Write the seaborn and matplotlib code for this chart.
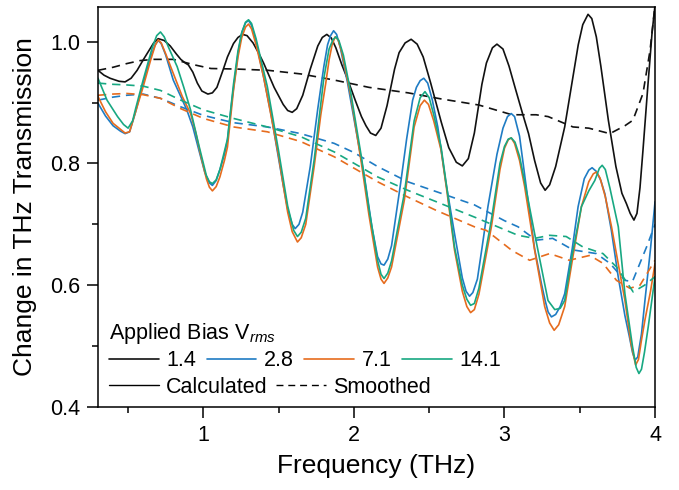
import matplotlib
matplotlib.use("Agg")
import pandas as pd
import seaborn as sns
import matplotlib.pyplot as plt
from matplotlib.lines import Line2D
from matplotlib.ticker import MultipleLocator

# ---- data ----
bias_levels = ["1.4", "2.8", "7.1", "14.1"]
bias_colors = ["#111111", "#1f7cc4", "#e66c1e", "#18a882"]

# calculated (solid)
f_calc_14 = [0.30, 0.34, 0.38, 0.44, 0.48, 0.52, 0.56, 0.60, 0.64, 0.67, 0.70, 0.74, 0.78, 0.82, 0.85,
             0.88, 0.90, 0.93, 0.96, 0.99, 1.03, 1.06, 1.09, 1.13, 1.16, 1.20, 1.23, 1.26, 1.29, 1.33,
             1.37, 1.40, 1.47, 1.53, 1.56, 1.59, 1.62, 1.66, 1.71, 1.76, 1.79, 1.82, 1.85, 1.88, 1.92,
             1.96, 2.01, 2.05, 2.08, 2.11, 2.145, 2.18, 2.22, 2.27, 2.30, 2.34, 2.38, 2.42, 2.46, 2.51,
             2.58, 2.63, 2.68, 2.72, 2.76, 2.80, 2.85, 2.88, 2.92, 2.95, 2.99, 3.03, 3.07, 3.12, 3.16,
             3.20, 3.24, 3.27, 3.30, 3.34, 3.40, 3.45, 3.49, 3.52, 3.555, 3.58, 3.61, 3.64, 3.69, 3.74,
             3.78, 3.81, 3.835, 3.86, 3.88, 3.90, 3.92, 3.95, 3.98, 4.00]
t_calc_14 = [0.953, 0.945, 0.940, 0.935, 0.934, 0.940, 0.953, 0.970, 0.986, 0.998, 1.005, 1.002, 0.993, 0.980, 0.971,
             0.965, 0.962, 0.950, 0.932, 0.919, 0.914, 0.916, 0.925, 0.953, 0.975, 0.997, 1.007, 1.012, 1.010, 0.998,
             0.980, 0.965, 0.925, 0.897, 0.887, 0.884, 0.890, 0.912, 0.955, 0.993, 1.007, 1.012, 1.006, 0.990, 0.962,
             0.937, 0.903, 0.877, 0.862, 0.850, 0.846, 0.858, 0.895, 0.955, 0.982, 0.998, 1.004, 0.996, 0.975, 0.932,
             0.868, 0.826, 0.802, 0.796, 0.808, 0.850, 0.930, 0.965, 0.990, 0.996, 0.988, 0.960, 0.925, 0.882, 0.849,
             0.805, 0.768, 0.756, 0.765, 0.795, 0.860, 0.935, 0.995, 1.028, 1.045, 1.038, 1.008, 0.960, 0.871, 0.795,
             0.751, 0.734, 0.718, 0.707, 0.718, 0.760, 0.822, 0.920, 1.014, 1.060]

f_calc_28 = [0.30, 0.35, 0.40, 0.45, 0.48, 0.51, 0.55, 0.60, 0.65, 0.68, 0.70, 0.72, 0.75, 0.80, 0.85,
             0.89, 0.93, 0.97, 1.01, 1.04, 1.06, 1.085, 1.11, 1.14, 1.16, 1.19, 1.23, 1.255, 1.28, 1.30,
             1.32, 1.35, 1.40, 1.45, 1.49, 1.53, 1.56, 1.59, 1.61, 1.635, 1.66, 1.71, 1.76, 1.80, 1.825,
             1.845, 1.865, 1.885, 1.91, 1.958, 2.01, 2.07, 2.12, 2.157, 2.18, 2.20, 2.225, 2.25, 2.31, 2.35,
             2.39, 2.415, 2.44, 2.464, 2.49, 2.52, 2.557, 2.61, 2.668, 2.72, 2.745, 2.768, 2.79, 2.82, 2.85,
             2.89, 2.95, 2.99, 3.02, 3.045, 3.067, 3.10, 3.156, 3.20, 3.245, 3.27, 3.29, 3.312, 3.34, 3.37,
             3.40, 3.45, 3.489, 3.53, 3.56, 3.582, 3.61, 3.64, 3.667, 3.71, 3.756, 3.80, 3.83, 3.85, 3.867,
             3.885, 3.91, 3.933, 3.97, 4.00]
t_calc_28 = [0.899, 0.878, 0.862, 0.853, 0.849, 0.852, 0.885, 0.932, 0.975, 0.995, 1.002, 0.997, 0.978, 0.937, 0.910,
             0.888, 0.860, 0.822, 0.785, 0.768, 0.764, 0.772, 0.790, 0.815, 0.838, 0.904, 0.980, 1.015, 1.031, 1.035,
             1.027, 1.000, 0.942, 0.880, 0.822, 0.765, 0.725, 0.700, 0.693, 0.700, 0.720, 0.795, 0.890, 0.959, 0.995,
             1.010, 1.018, 1.012, 0.990, 0.932, 0.860, 0.778, 0.695, 0.647, 0.635, 0.633, 0.643, 0.665, 0.767, 0.840,
             0.904, 0.925, 0.936, 0.940, 0.932, 0.905, 0.860, 0.770, 0.685, 0.612, 0.590, 0.582, 0.588, 0.610, 0.660,
             0.729, 0.815, 0.858, 0.877, 0.882, 0.877, 0.845, 0.740, 0.660, 0.603, 0.575, 0.556, 0.548, 0.552, 0.565,
             0.586, 0.660, 0.729, 0.775, 0.789, 0.793, 0.787, 0.772, 0.750, 0.690, 0.613, 0.550, 0.515, 0.490, 0.477,
             0.482, 0.520, 0.575, 0.660, 0.737]

f_calc_71 = [0.30, 0.35, 0.40, 0.45, 0.48, 0.51, 0.55, 0.60, 0.65, 0.68, 0.70, 0.72, 0.75, 0.80, 0.86,
             0.915, 0.95, 0.98, 1.02, 1.04, 1.06, 1.085, 1.11, 1.14, 1.16, 1.20, 1.23, 1.255, 1.28, 1.30,
             1.32, 1.35, 1.40, 1.45, 1.50, 1.53, 1.56, 1.59, 1.625, 1.65, 1.68, 1.736, 1.78, 1.813, 1.835,
             1.855, 1.875, 1.895, 1.92, 1.98, 2.05, 2.10, 2.157, 2.18, 2.20, 2.225, 2.25, 2.335, 2.40, 2.44,
             2.468, 2.495, 2.53, 2.579, 2.62, 2.668, 2.72, 2.75, 2.775, 2.80, 2.83, 2.913, 2.97, 3.00, 3.025,
             3.045, 3.067, 3.10, 3.134, 3.20, 3.267, 3.30, 3.33, 3.36, 3.40, 3.45, 3.511, 3.56, 3.59, 3.611,
             3.635, 3.67, 3.711, 3.80, 3.84, 3.871, 3.89, 3.91, 3.933, 3.97, 4.00]
t_calc_71 = [0.910, 0.885, 0.866, 0.856, 0.850, 0.852, 0.885, 0.926, 0.970, 0.994, 1.003, 0.998, 0.980, 0.948, 0.910,
             0.882, 0.850, 0.816, 0.775, 0.761, 0.755, 0.762, 0.778, 0.805, 0.827, 0.920, 0.975, 1.007, 1.024, 1.029,
             1.021, 0.995, 0.942, 0.878, 0.812, 0.765, 0.720, 0.688, 0.671, 0.678, 0.700, 0.795, 0.880, 0.932, 0.970,
             0.995, 1.008, 1.003, 0.982, 0.910, 0.800, 0.715, 0.630, 0.610, 0.603, 0.612, 0.630, 0.740, 0.860, 0.895,
             0.904, 0.897, 0.870, 0.822, 0.750, 0.658, 0.590, 0.565, 0.555, 0.560, 0.585, 0.696, 0.790, 0.825, 0.839,
             0.842, 0.833, 0.805, 0.762, 0.658, 0.565, 0.538, 0.526, 0.535, 0.565, 0.640, 0.729, 0.770, 0.783, 0.786,
             0.776, 0.745, 0.696, 0.575, 0.505, 0.469, 0.478, 0.510, 0.543, 0.590, 0.636]

f_calc_141 = [0.30, 0.33, 0.36, 0.43, 0.47, 0.50, 0.53, 0.55, 0.60, 0.66, 0.69, 0.715, 0.74, 0.77, 0.826,
              0.87, 0.915, 0.97, 1.02, 1.04, 1.06, 1.085, 1.11, 1.16, 1.20, 1.23, 1.255, 1.28, 1.30, 1.32,
              1.35, 1.425, 1.50, 1.56, 1.60, 1.625, 1.65, 1.68, 1.736, 1.80, 1.835, 1.86, 1.88, 1.90, 1.93,
              1.98, 2.05, 2.10, 2.157, 2.18, 2.20, 2.225, 2.25, 2.335, 2.40, 2.44, 2.472, 2.50, 2.53, 2.579,
              2.62, 2.668, 2.72, 2.75, 2.775, 2.80, 2.83, 2.913, 2.97, 3.00, 3.025, 3.045, 3.07, 3.10, 3.134,
              3.20, 3.289, 3.334, 3.37, 3.40, 3.45, 3.511, 3.56, 3.60, 3.63, 3.649, 3.67, 3.70, 3.756, 3.80,
              3.85, 3.875, 3.893, 3.91, 3.93, 3.955, 4.00]
t_calc_141 = [0.940, 0.922, 0.904, 0.877, 0.864, 0.858, 0.870, 0.890, 0.937, 0.990, 1.010, 1.016, 1.008, 0.990, 0.959,
              0.925, 0.888, 0.830, 0.780, 0.770, 0.767, 0.773, 0.790, 0.840, 0.930, 0.985, 1.015, 1.032, 1.036, 1.030,
              1.005, 0.926, 0.820, 0.730, 0.690, 0.680, 0.687, 0.710, 0.806, 0.940, 0.988, 1.003, 1.008, 1.002, 0.978,
              0.915, 0.810, 0.725, 0.641, 0.618, 0.611, 0.620, 0.640, 0.751, 0.870, 0.908, 0.918, 0.908, 0.880, 0.827,
              0.755, 0.663, 0.600, 0.577, 0.567, 0.570, 0.595, 0.707, 0.800, 0.828, 0.840, 0.842, 0.835, 0.812, 0.770,
              0.685, 0.575, 0.560, 0.562, 0.575, 0.650, 0.729, 0.755, 0.772, 0.792, 0.797, 0.790, 0.760, 0.696, 0.586,
              0.500, 0.465, 0.455, 0.462, 0.490, 0.532, 0.614]

# smoothed (dashed)
f_smooth_14 = [0.30, 0.40, 0.49, 0.58, 0.67, 0.80, 0.94, 1.05, 1.23, 1.43, 1.65, 1.87, 2.10, 2.36, 2.58,
               2.83, 3.05, 3.21, 3.29, 3.455, 3.56, 3.70, 3.80, 3.853, 3.92, 3.967, 4.00]
t_smooth_14 = [0.953, 0.958, 0.964, 0.969, 0.971, 0.971, 0.962, 0.956, 0.955, 0.953, 0.947, 0.937, 0.925, 0.916, 0.906,
               0.896, 0.880, 0.880, 0.877, 0.860, 0.858, 0.849, 0.862, 0.871, 0.915, 0.986, 1.060]

f_smooth_28 = [0.30, 0.40, 0.49, 0.60, 0.715, 0.85, 1.00, 1.20, 1.425, 1.647, 1.869, 2.00, 2.157, 2.357, 2.579,
               2.80, 3.00, 3.09, 3.21, 3.32, 3.455, 3.61, 3.70, 3.80, 3.85, 3.944, 4.00]
t_smooth_28 = [0.904, 0.909, 0.912, 0.914, 0.907, 0.893, 0.879, 0.867, 0.860, 0.849, 0.833, 0.818, 0.795, 0.770, 0.751,
               0.732, 0.706, 0.696, 0.674, 0.677, 0.658, 0.652, 0.636, 0.608, 0.606, 0.663, 0.700]

f_smooth_71 = [0.30, 0.40, 0.49, 0.60, 0.715, 0.85, 1.00, 1.20, 1.425, 1.647, 1.869, 2.157, 2.357, 2.546, 2.80,
               2.88, 3.05, 3.167, 3.30, 3.43, 3.567, 3.654, 3.744, 3.833, 3.90, 4.00]
t_smooth_71 = [0.912, 0.914, 0.915, 0.913, 0.907, 0.890, 0.874, 0.860, 0.852, 0.836, 0.811, 0.770, 0.745, 0.723, 0.696,
               0.690, 0.657, 0.641, 0.652, 0.641, 0.649, 0.636, 0.608, 0.595, 0.600, 0.641]

f_smooth_141 = [0.30, 0.40, 0.49, 0.60, 0.715, 0.85, 1.00, 1.20, 1.425, 1.647, 1.869, 2.157, 2.357, 2.579, 2.80,
                3.09, 3.20, 3.30, 3.41, 3.52, 3.654, 3.744, 3.855, 3.93, 4.00]
t_smooth_141 = [0.932, 0.930, 0.929, 0.927, 0.920, 0.904, 0.888, 0.874, 0.860, 0.844, 0.819, 0.778, 0.756, 0.734, 0.712,
                0.682, 0.677, 0.682, 0.680, 0.663, 0.652, 0.630, 0.589, 0.600, 0.614]

series = [
    ("1.4", "Calculated", f_calc_14, t_calc_14),
    ("2.8", "Calculated", f_calc_28, t_calc_28),
    ("7.1", "Calculated", f_calc_71, t_calc_71),
    ("14.1", "Calculated", f_calc_141, t_calc_141),
    ("1.4", "Smoothed", f_smooth_14, t_smooth_14),
    ("2.8", "Smoothed", f_smooth_28, t_smooth_28),
    ("7.1", "Smoothed", f_smooth_71, t_smooth_71),
    ("14.1", "Smoothed", f_smooth_141, t_smooth_141),
]

rows = []
for bias, kind, fs, ts in series:
    for f, t in zip(fs, ts):
        rows.append({"bias": bias, "kind": kind, "freq": f, "trans": t})
df = pd.DataFrame(rows)

sns.set_style("ticks")
plt.rcParams["font.family"] = ["Liberation Sans", "DejaVu Sans"]
plt.rcParams["mathtext.fontset"] = "custom"
plt.rcParams["mathtext.rm"] = "Liberation Sans"
plt.rcParams["mathtext.it"] = "Liberation Sans:italic"
for key in ["text.color", "axes.labelcolor", "axes.edgecolor", "xtick.color", "ytick.color"]:
    plt.rcParams[key] = "black"

fig = plt.figure(figsize=(6.79, 4.90), dpi=100)
ax = fig.add_axes([0.1443, 0.1694, 0.8204, 0.8163])

dash = (5, 3.5)
palette = dict(zip(bias_levels, bias_colors))
sns.lineplot(data=df, x="freq", y="trans", hue="bias", style="kind",
             hue_order=bias_levels, palette=palette,
             dashes={"Calculated": "", "Smoothed": dash},
             estimator=None, linewidth=1.2, legend=False, ax=ax)
for ln in ax.get_lines():
    ln.set_solid_joinstyle("round")

ax.set_xlim(0.3, 4.0)
ax.set_ylim(0.4, 1.057)
ax.xaxis.set_major_locator(MultipleLocator(1))
ax.xaxis.set_minor_locator(MultipleLocator(0.5))
ax.yaxis.set_major_locator(MultipleLocator(0.2))
ax.yaxis.set_minor_locator(MultipleLocator(0.1))
ax.tick_params(which="major", direction="out", length=8, width=1.1, labelsize=15.5, pad=5)
ax.tick_params(which="minor", direction="out", length=4, width=1.1)
ax.tick_params(top=False, right=False, which="both")
for sp in ax.spines.values():
    sp.set_linewidth(1.1)
ax.set_xlabel("Frequency (THz)", fontsize=19, labelpad=6)
ax.set_ylabel("Change in THz Transmission", fontsize=19, labelpad=9)

# legends
h_bias = [Line2D([], [], color=c, lw=1.2) for c in bias_colors]
leg1 = ax.legend(h_bias, bias_levels, title="Applied Bias V$_{rms}$", ncol=4,
                 loc="upper left", bbox_to_anchor=(0.02, 0.215), frameon=False,
                 fontsize=15.5, title_fontsize=15.5, alignment="left",
                 handlelength=2.3, handletextpad=0.35, columnspacing=0.5,
                 borderpad=0, borderaxespad=0, labelspacing=0.2)
ax.add_artist(leg1)
h_kind = [Line2D([], [], color="black", lw=1.0),
          Line2D([], [], color="black", lw=1.0, ls=(0, dash))]
ax.legend(h_kind, ["Calculated", "Smoothed"], ncol=2,
          loc="upper left", bbox_to_anchor=(0.02, 0.075), frameon=False,
          fontsize=15.5, handlelength=2.3, handletextpad=0.35, columnspacing=0.4,
          borderpad=0, borderaxespad=0)

fig.savefig("out.png", dpi=100)
